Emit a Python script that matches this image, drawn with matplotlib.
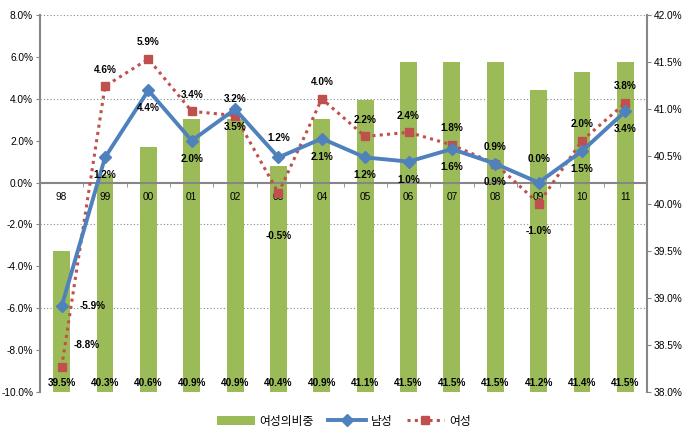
import numpy as np
import matplotlib
matplotlib.use('Agg')
import matplotlib.pyplot as plt
from matplotlib.transforms import blended_transform_factory

plt.rcParams['font.family'] = ['Liberation Sans', 'Noto Sans CJK KR', 'DejaVu Sans']

# 데이터
years = ['98', '99', '00', '01', '02', '03', '04', '05', '06', '07', '08', '09', '10', '11']
share = [39.5, 40.3, 40.6, 40.9, 40.9, 40.4, 40.9, 41.1, 41.5, 41.5, 41.5, 41.2, 41.4, 41.5]
male = [-5.9, 1.2, 4.4, 2.0, 3.5, 1.2, 2.1, 1.2, 1.0, 1.6, 0.9, 0.0, 1.5, 3.4]
female = [-8.8, 4.6, 5.9, 3.4, 3.2, -0.5, 4.0, 2.2, 2.4, 1.8, 0.9, -1.0, 2.0, 3.8]
grid_levels = [8, 4, -2, -6]

green = '#9BBB59'
blue = '#4F81BD'
red = '#C0504D'
gray = '#868686'

x = np.arange(len(years))

fig = plt.figure(figsize=(6.88, 4.33), dpi=100)
ax = fig.add_axes([40 / 688, 1 - 392 / 433, 607 / 688, 377 / 433])
ax2 = ax.twinx()
ax.set_zorder(ax2.get_zorder() + 1)
ax.patch.set_visible(False)

# 막대 (오른쪽 축)
ax2.bar(x, [s - 38 for s in share], bottom=38, width=0.39, color=green, zorder=2)
ax2.set_ylim(38, 42)
ax2.set_yticks(np.arange(38, 42.01, 0.5))
ax2.set_yticklabels(['%.1f%%' % v for v in np.arange(38, 42.01, 0.5)], fontsize=7.3)
for i, s in enumerate(share):
    ax2.text(x[i], 38.1, '%.1f%%' % s, ha='center', va='center', fontsize=7.2,
             fontweight='bold', zorder=3)

# 격자선 (막대 뒤)
tr = blended_transform_factory(ax2.transAxes, ax.transData)
for g in grid_levels:
    ax2.plot([0, 1], [g, g], transform=tr, color='#7F8C8D', lw=0.8,
             linestyle=(0, (1, 2)), zorder=1)

# 선 (왼쪽 축)
ax.plot(x, female, color=red, lw=2.2, linestyle=(0, (1, 1.4)), marker='s',
        markersize=6, label='여성', zorder=3)
ax.plot(x, male, color=blue, lw=2.8, marker='D', markersize=6, label='남성', zorder=4)
ax.set_ylim(-10, 8)
ax.set_xlim(-0.5, len(years) - 0.5)
ax.set_yticks(np.arange(-10, 8.01, 2))
ax.set_yticklabels(['%.1f%%' % v for v in np.arange(-10, 8.01, 2)], fontsize=7.3)

# 레이블 위치
male_off = [(0, -13)] * len(years)
male_off[0] = (22, 0)
male_off[5] = (0, 14)
male_off[11] = (0, 17)
female_off = [(0, 12)] * len(years)
female_off[0] = (18, 16)
female_off[5] = (0, -31)
female_off[11] = (0, -20)
for i in range(len(years)):
    ax.annotate('%.1f%%' % male[i], (x[i], male[i]), xytext=male_off[i],
                textcoords='offset points', ha='center', va='center',
                fontsize=7.2, fontweight='bold', zorder=5)
    ax.annotate('%.1f%%' % female[i], (x[i], female[i]), xytext=female_off[i],
                textcoords='offset points', ha='center', va='center',
                fontsize=7.2, fontweight='bold', zorder=5)

# 축 스타일
for a in (ax, ax2):
    for s in a.spines.values():
        s.set_visible(False)
ax.spines['left'].set_visible(True)
ax.spines['left'].set_color(gray)
ax.spines['left'].set_linewidth(1.5)
ax2.spines['right'].set_visible(True)
ax2.spines['right'].set_color(gray)
ax2.spines['right'].set_linewidth(1.5)
ax.spines['bottom'].set_visible(True)
ax.spines['bottom'].set_position(('data', 0))
ax.spines['bottom'].set_color(gray)
ax.spines['bottom'].set_linewidth(1.5)

ax.set_xticks(x)
ax.set_xticklabels(years, fontsize=7.3)
ax.set_xticks(np.arange(-0.5, len(years), 1), minor=True)
ax.tick_params(axis='x', which='major', length=0, pad=7)
ax.tick_params(axis='x', which='minor', length=3, color=gray, direction='out')
ax.tick_params(axis='y', length=3, color=gray, pad=2)
ax2.tick_params(axis='y', length=3, color=gray, pad=2)

fig.legend(loc='center', bbox_to_anchor=(344 / 688, 1 - 421 / 433), ncol=3,
           frameon=False, handles=[ax2.patches[0]] + ax.get_lines()[::-1][:2],
           labels=['여성의비중', '남성', '여성'], prop={'family': 'Noto Sans CJK KR', 'size': 8.5},
           handlelength=3.2, columnspacing=1.2, handletextpad=0.4)

fig.savefig('out.png', dpi=100)
